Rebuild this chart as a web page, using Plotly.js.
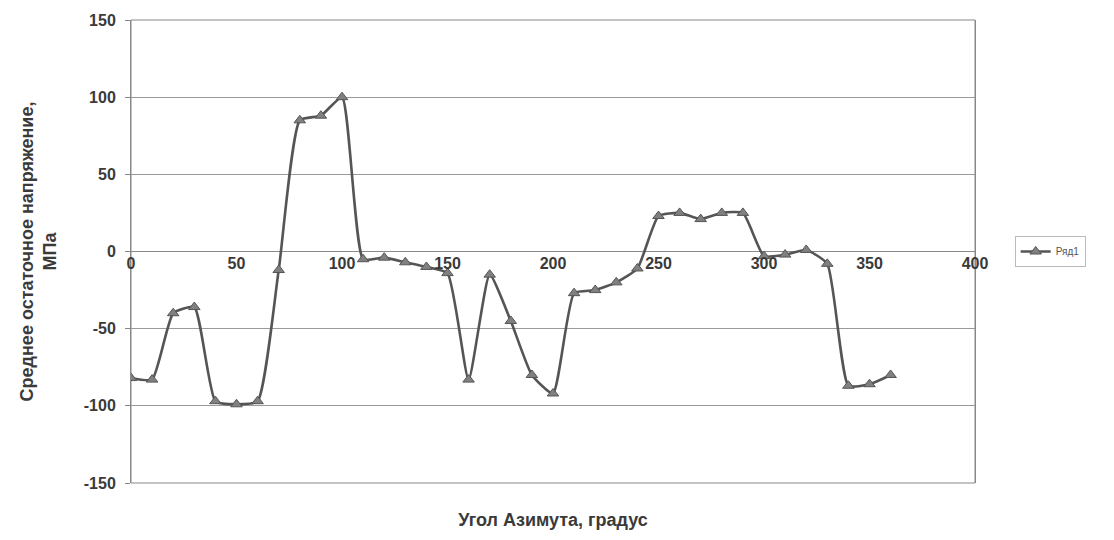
<!DOCTYPE html>
<html>
<head>
<meta charset="utf-8">
<script src="https://cdn.plot.ly/plotly-3.0.1.min.js"></script>
<style>html,body{margin:0;padding:0;background:#fff;}#chart{width:1114px;height:540px;}</style>
</head>
<body>
<div id="chart"></div>
<script>
// Azimuth angle, degrees
const angles = [0,10,20,30,40,50,60,70,80,90,100,110,120,130,140,150,160,170,180,190,200,210,220,230,240,250,260,270,280,290,300,310,320,330,340,350,360];
// Mean residual stress, MPa
const stress = [-82,-83,-40,-36,-97,-99,-97,-12,85,88,100,-5,-4,-7,-10,-14,-83,-15,-45,-80,-92,-27,-25,-20,-11,23,25,21,25,25,-3,-2,1,-8,-87,-86,-80];
const seriesName = 'Ряд1';
const xTicks = [0,50,100,150,200,250,300,350,400];
const xTickLabels = ['0','50','100','150','200','250','300','350','400'];
const yTicks = [-150,-100,-50,0,50,100,150];
const yTickLabels = ['-150','-100','-50','0','50','100','150'];
const xTitle = 'Угол Азимута, градус';
const yTitle = 'Среднее остаточное напряжение,<br>МПа';

const fontFam = 'Liberation Sans, Arial, sans-serif';
const txtColor = '#3a3a3a';

const trace = {
  x: angles, y: stress, name: seriesName,
  type: 'scatter', mode: 'lines+markers',
  line: {color: '#555', width: 2.6, shape: 'spline', smoothing: 0.5},
  marker: {symbol: 'triangle-up', size: 10, color: '#808080', line: {color: '#555', width: 1}},
  xaxis: 'x', yaxis: 'y'
};

const layout = {
  width: 1114, height: 540,
  margin: {l: 131, r: 139, t: 20, b: 57},
  paper_bgcolor: '#fff', plot_bgcolor: '#fff',
  font: {family: fontFam, size: 16, color: txtColor, weight: 'bold'},
  showlegend: true,
  legend: {x: 1.047, y: 0.5, xanchor: 'left', yanchor: 'middle',
           bordercolor: '#bbb', borderwidth: 1, font: {size: 10, color: '#555', weight: 'normal'},
           itemwidth: 30},
  xaxis: {
    range: [0, 400], tickvals: xTicks, showticklabels: false,
    showgrid: false, zeroline: false, showline: false, ticks: '', automargin: false,
    title: {text: xTitle, font: {size: 18, color: txtColor, weight: 'bold'}, standoff: 30}
  },
  xaxis2: {
    overlaying: 'x', anchor: 'free', position: 0.5, side: 'bottom',
    range: [0, 400], tickvals: xTicks, ticktext: xTickLabels,
    showgrid: false, zeroline: false, showline: false, ticks: '',
    tickfont: {size: 16, color: txtColor, weight: 'bold'}
  },
  yaxis: {
    range: [-150, 150], tickvals: yTicks, ticktext: yTickLabels,
    showgrid: true, gridcolor: '#9a9a9a', gridwidth: 1,
    zeroline: true, zerolinecolor: '#8a8a8a', zerolinewidth: 1,
    showline: true, linecolor: '#888', linewidth: 1, mirror: true,
    ticks: 'outside', ticklen: 5, tickcolor: '#888', ticklabelstandoff: 6,
    tickfont: {size: 16, color: txtColor, weight: 'bold'}, automargin: false,
    title: {text: yTitle, font: {size: 18, color: txtColor, weight: 'bold'}, standoff: 22}
  },
  shapes: [{type: 'rect', xref: 'paper', yref: 'paper', x0: 0, x1: 1, y0: 0, y1: 1,
            line: {color: '#888', width: 1}, fillcolor: 'rgba(0,0,0,0)', layer: 'below'}]
};

Plotly.newPlot('chart', [trace, {x: [], y: [], xaxis: 'x2', yaxis: 'y', showlegend: false, hoverinfo: 'skip'}], layout, {displayModeBar: false, staticPlot: true});
</script>
</body>
</html>
